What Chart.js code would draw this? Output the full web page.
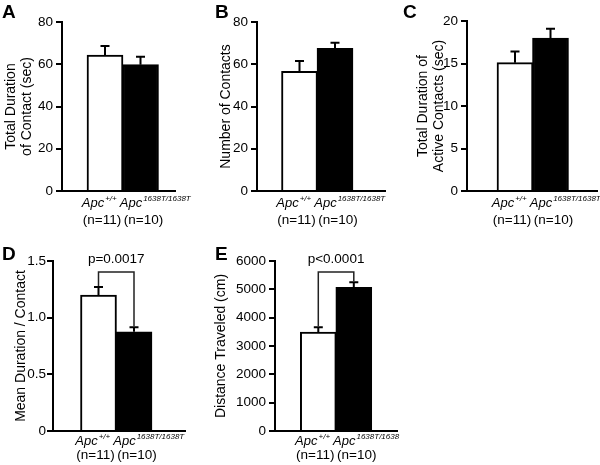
<!DOCTYPE html>
<html>
<head>
<meta charset="utf-8">
<script src="https://cdn.jsdelivr.net/npm/chart.js@4.4.1/dist/chart.umd.min.js"></script>
<style>
  body { margin: 0; background: #fff; }
  #fig { position: relative; width: 600px; height: 465px; }
  #fig canvas { position: absolute; }
</style>
</head>
<body>
<div id="fig">
  <canvas id="panelA" width="200" height="232" style="left:0;top:0"></canvas>
  <canvas id="panelB" width="200" height="232" style="left:200px;top:0"></canvas>
  <canvas id="panelC" width="200" height="232" style="left:400px;top:0"></canvas>
  <canvas id="panelD" width="200" height="233" style="left:0;top:232px"></canvas>
  <canvas id="panelE" width="200" height="233" style="left:200px;top:232px"></canvas>
</div>
<script>
// Grupos (genotipo + n)
const groupBase = 'Apc';
const groupSup = ['+/+', '1638T/1638T'];
const groupN = ['(n=11)', '(n=10)'];

// A - duración total de contacto
const contactDuration = [64.4, 59.8];
const contactDurationSem = [4.2, 3.8];
const ticksA = ['0', '20', '40', '60', '80'];

// B - número de contactos
const contactCount = [56.7, 67.5];
const contactCountSem = [4.8, 2.7];
const ticksB = ['0', '20', '40', '60', '80'];

// C - duración de contactos activos
const activeDuration = [15.1, 18.0];
const activeDurationSem = [1.3, 1.1];
const ticksC = ['0', '5', '10', '15', '20'];

// D - duración media por contacto
const meanDuration = [1.20, 0.876];
const meanDurationSem = [0.07, 0.039];
const ticksD = ['0', '0.5', '1.0', '1.5'];

// E - distancia recorrida
const distance = [3494, 5071];
const distanceSem = [165, 176];
const ticksE = ['0', '1000', '2000', '3000', '4000', '5000', '6000'];

const FONT = '"Liberation Sans", Arial, Helvetica, sans-serif';
const BAR_W = 35.5;

/**
 * Barras de error, corchete con p, letra del panel y etiquetas del eje x
 */
function extrasPlugin(p) {
    return {
        id: 'extras',
        afterDatasetsDraw(chart) {
            const ctx = chart.ctx;
            const y = chart.scales.y;
            const bars = chart.getDatasetMeta(0).data;
            const tops = bars.map((b, i) => y.getPixelForValue(p.values[i] + p.sems[i]));

            ctx.save();
            ctx.strokeStyle = '#000';
            ctx.lineWidth = 2;
            bars.forEach((bar, i) => {
                ctx.beginPath();
                ctx.moveTo(bar.x, bar.y);
                ctx.lineTo(bar.x, tops[i]);
                ctx.moveTo(bar.x - 4.5, tops[i]);
                ctx.lineTo(bar.x + 4.5, tops[i]);
                ctx.stroke();
            });

            if (p.pText) {
                const bY = chart.chartArea.top + 11;
                ctx.lineWidth = 1.5;
                ctx.strokeStyle = '#222';
                ctx.beginPath();
                ctx.moveTo(bars[0].x, tops[0] - 1);
                ctx.lineTo(bars[0].x, bY);
                ctx.lineTo(bars[1].x, bY);
                ctx.lineTo(bars[1].x, tops[1] - 1);
                ctx.stroke();
                ctx.fillStyle = '#000';
                ctx.font = '13.5px ' + FONT;
                ctx.textAlign = 'center';
                ctx.textBaseline = 'middle';
                ctx.fillText(p.pText, (bars[0].x + bars[1].x) / 2, chart.chartArea.top - 1.5);
            }
            ctx.restore();
        },
        afterDraw(chart) {
            const ctx = chart.ctx;
            const x = chart.scales.x;
            const bottom = chart.chartArea.bottom;
            const x0 = x.getPixelForValue(0);
            const x1 = x.getPixelForValue(1);
            const mid = (x0 + x1) / 2;

            ctx.save();
            ctx.fillStyle = '#000';
            ctx.textAlign = 'left';

            // letra del panel
            ctx.font = 'bold 19px ' + FONT;
            ctx.textBaseline = 'top';
            ctx.fillText(p.letter, p.letterX, p.letterY);
            ctx.textBaseline = 'alphabetic';

            // genotipos con superíndice
            const baseFont = 'italic 13px ' + FONT;
            const supFont = 'italic 8px ' + FONT;
            ctx.font = baseFont;
            const wb = ctx.measureText(groupBase).width;
            ctx.font = supFont;
            const ws0 = ctx.measureText(groupSup[0]).width;
            const starts = [mid - 6 - (wb + 1 + ws0), mid - 3];
            starts.forEach((sx, i) => {
                ctx.font = baseFont;
                ctx.fillText(groupBase, sx, bottom + p.labelY[0]);
                ctx.font = supFont;
                ctx.fillText(groupSup[i], sx + wb + 1, bottom + p.labelY[0] - 6);
            });

            // tamaño de muestra
            ctx.font = '13.5px ' + FONT;
            ctx.textAlign = 'center';
            ctx.fillText(groupN[0], x0 - 3, bottom + p.labelY[1]);
            ctx.fillText(groupN[1], x1 + 3, bottom + p.labelY[1]);
            ctx.restore();
        }
    };
}

function makePanel(id, cfg) {
    const canvas = document.getElementById(id);
    const W = canvas.width, H = canvas.height;
    const L = cfg.area.left, R = cfg.area.right;
    new Chart(canvas, {
        type: 'bar',
        data: {
            datasets: [{
                data: cfg.values.map((v, i) => ({ x: i, y: v })),
                backgroundColor: ['#ffffff', '#000000'],
                borderColor: '#000',
                borderWidth: 2,
                barThickness: 36
            }]
        },
        options: {
            responsive: false,
            animation: false,
            devicePixelRatio: 1,
            layout: { padding: { left: 0, top: cfg.area.top, right: W - R, bottom: H - cfg.area.bottom } },
            plugins: { legend: { display: false }, tooltip: { enabled: false } },
            scales: {
                x: {
                    type: 'linear',
                    offset: false,
                    min: (L - cfg.area.c0) / BAR_W,
                    max: (R - cfg.area.c0) / BAR_W,
                    ticks: { display: false },
                    grid: { display: true, drawOnChartArea: false, drawTicks: false },
                    border: { color: '#000', width: 2 },
                    afterFit: s => { s.height = 0; }
                },
                y: {
                    min: 0,
                    max: cfg.max,
                    ticks: {
                        stepSize: cfg.step,
                        color: '#000',
                        padding: cfg.tickPad,
                        font: { size: 13.5, family: FONT },
                        callback: (v, i) => cfg.ticks[i]
                    },
                    grid: { drawOnChartArea: false, drawTicks: true, tickLength: 6, color: '#000', lineWidth: 2 },
                    border: { color: '#000', width: 2 },
                    title: {
                        display: true,
                        text: cfg.title,
                        color: '#000',
                        font: { size: 14, family: FONT, lineHeight: 1.15 },
                        padding: { top: cfg.titlePad, bottom: 0 }
                    },
                    afterFit: s => { s.width = L; }
                }
            }
        },
        plugins: [extrasPlugin({
            values: cfg.values, sems: cfg.sems, pText: cfg.pText, labelY: cfg.labelY,
            letter: cfg.letter, letterX: cfg.letterPos[0], letterY: cfg.letterPos[1]
        })]
    });
}

window.onload = () => {
    makePanel('panelA', {
        values: contactDuration, sems: contactDurationSem, ticks: ticksA, max: 80, step: 20,
        title: ['Total Duration', 'of Contact (sec)'], titlePad: 3, tickPad: 3,
        area: { left: 62, top: 22, right: 175, bottom: 191, c0: 105 },
        letter: 'A', letterPos: [2, 3], labelY: [16, 33]
    });
    makePanel('panelB', {
        values: contactCount, sems: contactCountSem, ticks: ticksB, max: 80, step: 20,
        title: 'Number of Contacts', titlePad: 18.5, tickPad: 3,
        area: { left: 57, top: 22, right: 185, bottom: 191, c0: 99.5 },
        letter: 'B', letterPos: [15, 3], labelY: [16, 33]
    });
    makePanel('panelC', {
        values: activeDuration, sems: activeDurationSem, ticks: ticksC, max: 20, step: 5,
        title: ['Total Duration of', 'Active Contacts (sec)'], titlePad: 15, tickPad: 3,
        area: { left: 67, top: 21, right: 197, bottom: 191, c0: 115 },
        letter: 'C', letterPos: [3, 3], labelY: [16, 33]
    });
    makePanel('panelD', {
        values: meanDuration, sems: meanDurationSem, ticks: ticksD, max: 1.5, step: 0.5,
        title: 'Mean Duration / Contact', titlePad: 13, tickPad: 1,
        area: { left: 53, top: 29, right: 185, bottom: 199, c0: 98.5 },
        letter: 'D', letterPos: [2, 13], pText: 'p=0.0017', labelY: [14, 28]
    });
    makePanel('panelE', {
        values: distance, sems: distanceSem, ticks: ticksE, max: 6000, step: 1000,
        title: 'Distance Traveled (cm)', titlePad: 13.5, tickPad: 3,
        area: { left: 75, top: 29, right: 197, bottom: 199, c0: 118.3 },
        letter: 'E', letterPos: [15, 13], pText: 'p<0.0001', labelY: [14, 28]
    });
};
</script>
</body>
</html>
